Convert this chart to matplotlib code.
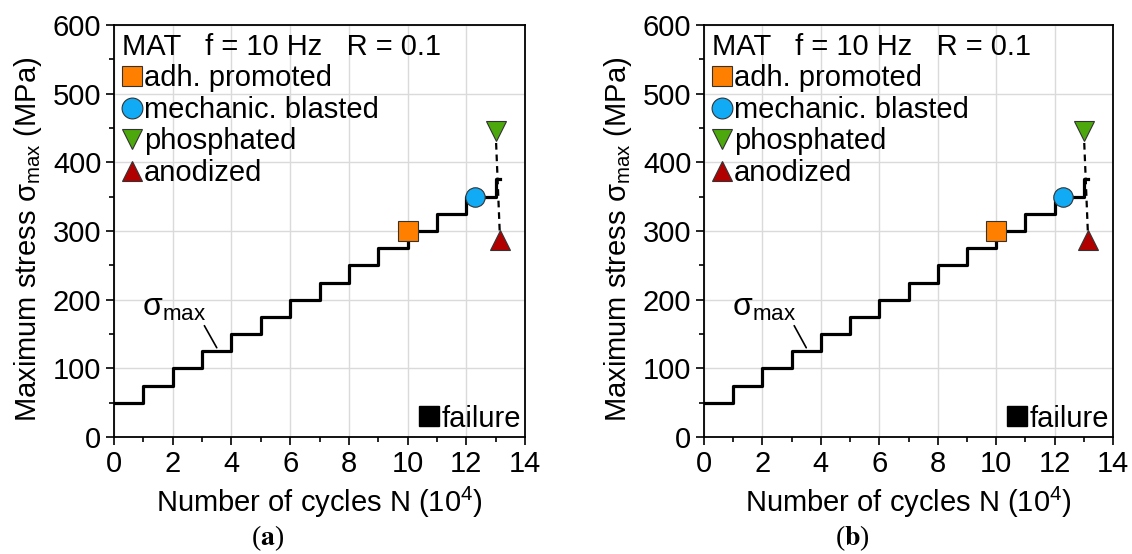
import matplotlib
matplotlib.use("Agg")
import matplotlib.pyplot as plt
from matplotlib.lines import Line2D
from matplotlib.ticker import MultipleLocator

plt.rcParams['font.family'] = ['Liberation Sans', 'DejaVu Sans']
plt.rcParams['mathtext.fontset'] = 'custom'
plt.rcParams['mathtext.rm'] = 'Liberation Sans'
plt.rcParams['mathtext.it'] = 'Liberation Sans:italic'
plt.rcParams['mathtext.bf'] = 'Liberation Sans:bold'

# ---- data ----
step_cycles = [0, 1, 2, 3, 4, 5, 6, 7, 8, 9, 10, 11, 12, 13, 13.15]
step_stress = [50, 75, 100, 125, 150, 175, 200, 225, 250, 275, 300, 325, 350, 375, 375]

series_names = ['adh. promoted', 'mechanic. blasted', 'phosphated', 'anodized']
series_cycles = [10.0, 12.3, 13.0, 13.15]
series_stress = [300, 350, 445, 287]
series_markers = ['s', 'o', 'v', '^']
series_colors = ['#FF8000', '#10AAF5', '#4CA80C', '#B00000']

dash_cycles = [13.0, 13.15]
dash_stress = [445, 287]

panel_labels = ['a', 'b']
title_text = 'MAT   f = 10 Hz   R = 0.1'
failure_label = 'failure'

FS = 21

fig = plt.figure(figsize=(11.32, 5.54), dpi=100)
axes_rects = [[114/1132, 117/554, 411/1132, 412/554],
              [704/1132, 117/554, 409/1132, 412/554]]
caption_x = [268/1132, 852/1132]

for rect, lab, cx in zip(axes_rects, panel_labels, caption_x):
    ax = fig.add_axes(rect)
    ax.set_xlim(0, 14)
    ax.set_ylim(0, 600)
    ax.xaxis.set_major_locator(MultipleLocator(2))
    ax.xaxis.set_minor_locator(MultipleLocator(1))
    ax.yaxis.set_major_locator(MultipleLocator(100))
    ax.yaxis.set_minor_locator(MultipleLocator(50))
    ax.grid(True, which='major', color='#DADADA', linewidth=1.0)
    ax.set_axisbelow(True)
    for sp in ax.spines.values():
        sp.set_linewidth(1.3)
    ax.tick_params(which='major', direction='out', length=6, width=1.2, labelsize=FS, pad=3)
    ax.tick_params(which='minor', direction='out', length=3.5, width=1.2)

    ax.step(step_cycles, step_stress, where='post', color='black', lw=2.3, zorder=3)
    ax.plot(dash_cycles, dash_stress, color='black', lw=1.6, ls=(0, (3, 2.2)), zorder=3)
    for xc, yc, m, c in zip(series_cycles, series_stress, series_markers, series_colors):
        ax.plot([xc], [yc], marker=m, ms=14, mfc=c, mec='#333333', mew=0.8,
                ls='none', zorder=5)

    ax.annotate(r'$\mathrm{σ}_{\mathrm{max}}$', xy=(3.5, 130), xytext=(0.95, 188),
                fontsize=23, ha='left', va='center',
                arrowprops=dict(arrowstyle='-', color='black', lw=1.2,
                                shrinkA=0, shrinkB=0,
                                relpos=(0.95, 0.0)))

    handles = [Line2D([], [], marker=m, ms=15, mfc=c, mec='#333333', mew=0.8, ls='none')
               for m, c in zip(series_markers, series_colors)]
    leg = ax.legend(handles, series_names, loc='upper left', title=title_text,
                    title_fontsize=FS, fontsize=FS, frameon=False,
                    handlelength=0.7, handletextpad=0.05, labelspacing=0.12,
                    borderaxespad=0.1, borderpad=0.17, alignment='left')
    ax.add_artist(leg)
    fh = [Line2D([], [], marker='s', ms=15, mfc='black', mec='black', ls='none')]
    ax.legend(fh, [failure_label], loc='lower right', fontsize=FS, frameon=False,
              handlelength=0.7, handletextpad=0.05, borderaxespad=0.05, borderpad=0.1)

    ax.set_xlabel(r'Number of cycles N (10$^{\mathrm{4}}$)', fontsize=FS, labelpad=5)
    ax.set_ylabel(r'Maximum stress $\mathrm{σ}_{\mathrm{max}}$ (MPa)', fontsize=FS)
    ax.yaxis.set_label_coords(-0.17, 0.48)

    fig.text(cx, 1 - 538/554, r'($\mathbf{%s}$)' % lab, fontsize=20, ha='center', va='center',
             family='Liberation Serif', math_fontfamily='stix')

fig.savefig('out.png', dpi=100)
